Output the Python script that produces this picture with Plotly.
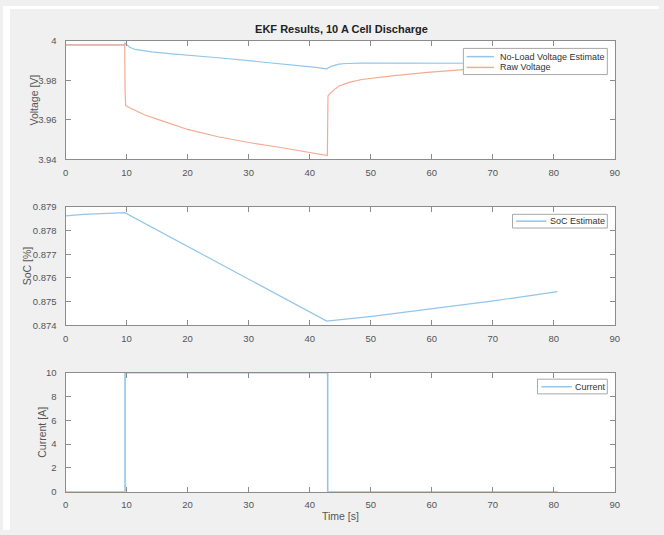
import plotly.graph_objects as go

# ---- data ----
t_est = [0, 9.65, 9.72, 10.0, 10.5, 11.4, 12.5, 14.1, 17, 20, 25, 30, 35, 38.4, 41, 42.8,
         43.1, 43.6, 44.8, 46, 48.5, 52, 58, 65, 72, 80.7]
v_est = [3.998, 3.998, 3.9989, 3.9980, 3.9968, 3.9957, 3.9951, 3.9945, 3.9936, 3.9929,
         3.9915, 3.9900, 3.9886, 3.9876, 3.9866, 3.9859, 3.9863, 3.9873, 3.9883, 3.9886,
         3.9888, 3.9888, 3.9887, 3.9886, 3.9887, 3.9887]

t_raw = [0, 9.7, 9.75, 9.85, 10.5, 11.4, 13, 15.6, 20, 25, 30, 35, 40, 42.85, 42.9, 43.0,
         43.5, 44.8, 46.5, 48.5, 53.9, 59.3, 65.2, 72, 80.7]
v_raw = [3.998, 3.998, 3.975, 3.9673, 3.9662, 3.9648, 3.9625, 3.9598, 3.9552, 3.9515,
         3.9486, 3.9462, 3.9435, 3.9420, 3.9420, 3.9722, 3.9740, 3.9772, 3.9790, 3.9805,
         3.9825, 3.9841, 3.9855, 3.9866, 3.9876]

t_soc = [0, 3, 9.7, 42.8, 50.2, 60.2, 70.1, 80.6]
soc = [0.87862, 0.87868, 0.87875, 0.87418, 0.87438, 0.87470, 0.87503, 0.87542]

t_cur = [0, 9.75, 9.75, 42.95, 42.95, 80.7]
cur = [0, 0, 10, 10, 0, 0]

x_ticks = [0, 10, 20, 30, 40, 50, 60, 70, 80, 90]
v_ticks = [3.94, 3.96, 3.98, 4.0]
v_ticktext = ["3.94", "3.96", "3.98", "4"]
soc_ticks = [0.874, 0.875, 0.876, 0.877, 0.878, 0.879]
soc_ticktext = ["0.874", "0.875", "0.876", "0.877", "0.878", "0.879"]
cur_ticks = [0, 2, 4, 6, 8, 10]

title_text = "EKF Results, 10 A Cell Discharge"
legend_names = ["No-Load Voltage Estimate", "Raw Voltage", "SoC Estimate", "Current"]

# ---- styling ----
W, H = 664, 535
BLUE = "rgb(146,198,234)"
ORANGE = "rgb(245,170,148)"
AXC = "#8c8c8c"
TXT = "#555555"
FONT = "Liberation Sans, Arial, sans-serif"

x0, x1 = 63.3 / W, 619.3 / W
def ydom(top, bot):
    return [1 - bot / H, 1 - top / H]

fig = go.Figure()
fig.add_trace(go.Scatter(x=t_est, y=v_est, mode="lines", name=legend_names[0],
                         line=dict(color=BLUE, width=1.2), xaxis="x", yaxis="y"))
fig.add_trace(go.Scatter(x=t_raw, y=v_raw, mode="lines", name=legend_names[1],
                         line=dict(color=ORANGE, width=1.2), xaxis="x", yaxis="y"))
fig.add_trace(go.Scatter(x=t_soc, y=soc, mode="lines", name=legend_names[2],
                         line=dict(color=BLUE, width=1.2), xaxis="x2", yaxis="y2"))
fig.add_trace(go.Scatter(x=t_cur, y=cur, mode="lines", name=legend_names[3],
                         line=dict(color=BLUE, width=1.6), xaxis="x3", yaxis="y3"))

TICKFONT = dict(size=9.5, color=TXT, family=FONT)

def xax(anchor):
    return dict(domain=[x0, x1], range=[0, 90], tickvals=x_ticks, anchor=anchor,
                showline=True, linecolor=AXC, linewidth=1, mirror="ticks",
                ticks="inside", ticklen=5, tickcolor=AXC, showgrid=False, zeroline=False,
                tickfont=TICKFONT, ticklabelstandoff=4)

def yax(anchor, dom, rng, tv, tt=None):
    d = dict(domain=dom, range=rng, tickvals=tv, anchor=anchor,
             showline=True, linecolor=AXC, linewidth=1, mirror="ticks",
             ticks="inside", ticklen=5, tickcolor=AXC, showgrid=False, zeroline=False,
             tickfont=TICKFONT, ticklabelstandoff=6)
    if tt is not None:
        d["ticktext"] = tt
    return d

def px(x):
    return x / W
def py(y):
    return 1 - y / H

# white page edges around the gray MATLAB figure area
shapes = [
    dict(type="rect", xref="paper", yref="paper", layer="above",
         x0=0, x1=px(7), y0=0, y1=1, fillcolor="white", line=dict(width=0)),
    dict(type="rect", xref="paper", yref="paper", layer="above",
         x0=0, x1=1, y0=py(3), y1=1, fillcolor="white", line=dict(width=0)),
]
ann = []

# ---- manual MATLAB-style legends (pixel layout) ----
def legend_box(left, right, top, bottom, rows):
    shapes.append(dict(type="rect", xref="paper", yref="paper", layer="above",
                       x0=px(left), x1=px(right), y0=py(bottom), y1=py(top),
                       fillcolor="white", line=dict(color="#a8a8a8", width=1)))
    for (lx0, lx1, ty, tx, name, color) in rows:
        shapes.append(dict(type="line", xref="paper", yref="paper", layer="above",
                           x0=px(lx0), x1=px(lx1), y0=py(ty), y1=py(ty),
                           line=dict(color=color, width=1.5)))
        ann.append(dict(text=name, xref="paper", yref="paper", x=px(tx), y=py(ty),
                        xanchor="left", yanchor="middle", showarrow=False,
                        font=dict(size=9, color="#333333", family=FONT)))

legend_box(466, 611.7, 43.3, 70,
           [(469.3, 497, 51.7, 501.5, legend_names[0], BLUE),
            (469.3, 497, 62.7, 501.5, legend_names[1], ORANGE)])
legend_box(515.7, 611.7, 212.7, 226.7,
           [(519.3, 550, 219.7, 552, legend_names[2], BLUE)])
legend_box(541, 611.7, 381, 396,
           [(545, 575.7, 388.7, 577, legend_names[3], BLUE)])

def ylab(text, xpix, top, bot):
    ann.append(dict(text=text, xref="paper", yref="paper", x=xpix / W, y=1 - (top + bot) / 2 / H,
                    xanchor="center", yanchor="middle", textangle=-90, showarrow=False,
                    font=dict(size=10.5, color=TXT, family=FONT)))
ylab("Voltage [V]", 31.7, 35.7, 156.7)
ylab("SoC [%]", 24.5, 205, 326)
ylab("Current [A]", 40, 374.3, 496)
ann.append(dict(text="Time [s]", xref="paper", yref="paper", x=341.5 / W, y=1 - 521 / H,
                xanchor="center", yanchor="middle", showarrow=False,
                font=dict(size=10.5, color=TXT, family=FONT)))

fig.update_layout(
    autosize=True,
    margin=dict(l=0, r=0, t=0, b=0),
    paper_bgcolor="#f0f0f0",
    plot_bgcolor="white",
    showlegend=False,
    font=dict(family=FONT, color=TXT),
    xaxis=xax("y"),
    yaxis=yax("x", ydom(35.7, 156.7), [3.94, 4.0], v_ticks, v_ticktext),
    xaxis2=xax("y2"),
    yaxis2=yax("x2", ydom(205, 326), [0.874, 0.879], soc_ticks, soc_ticktext),
    xaxis3=xax("y3"),
    yaxis3=yax("x3", ydom(374.3, 496), [0, 10], cur_ticks),
    title=dict(text="<b>" + title_text + "</b>", x=341.5 / W, y=1 - 29 / H,
               xanchor="center", yanchor="middle",
               font=dict(size=11, color="#222222", family=FONT)),
    shapes=shapes,
    annotations=ann,
)

fig.write_html("out.html", config={"displayModeBar": False, "responsive": True},
               default_width="100vw", default_height="100vh",
               post_script=("document.body.style.margin='0';"
                            "document.body.style.overflow='hidden';"
                            "document.documentElement.style.overflow='hidden';"))
